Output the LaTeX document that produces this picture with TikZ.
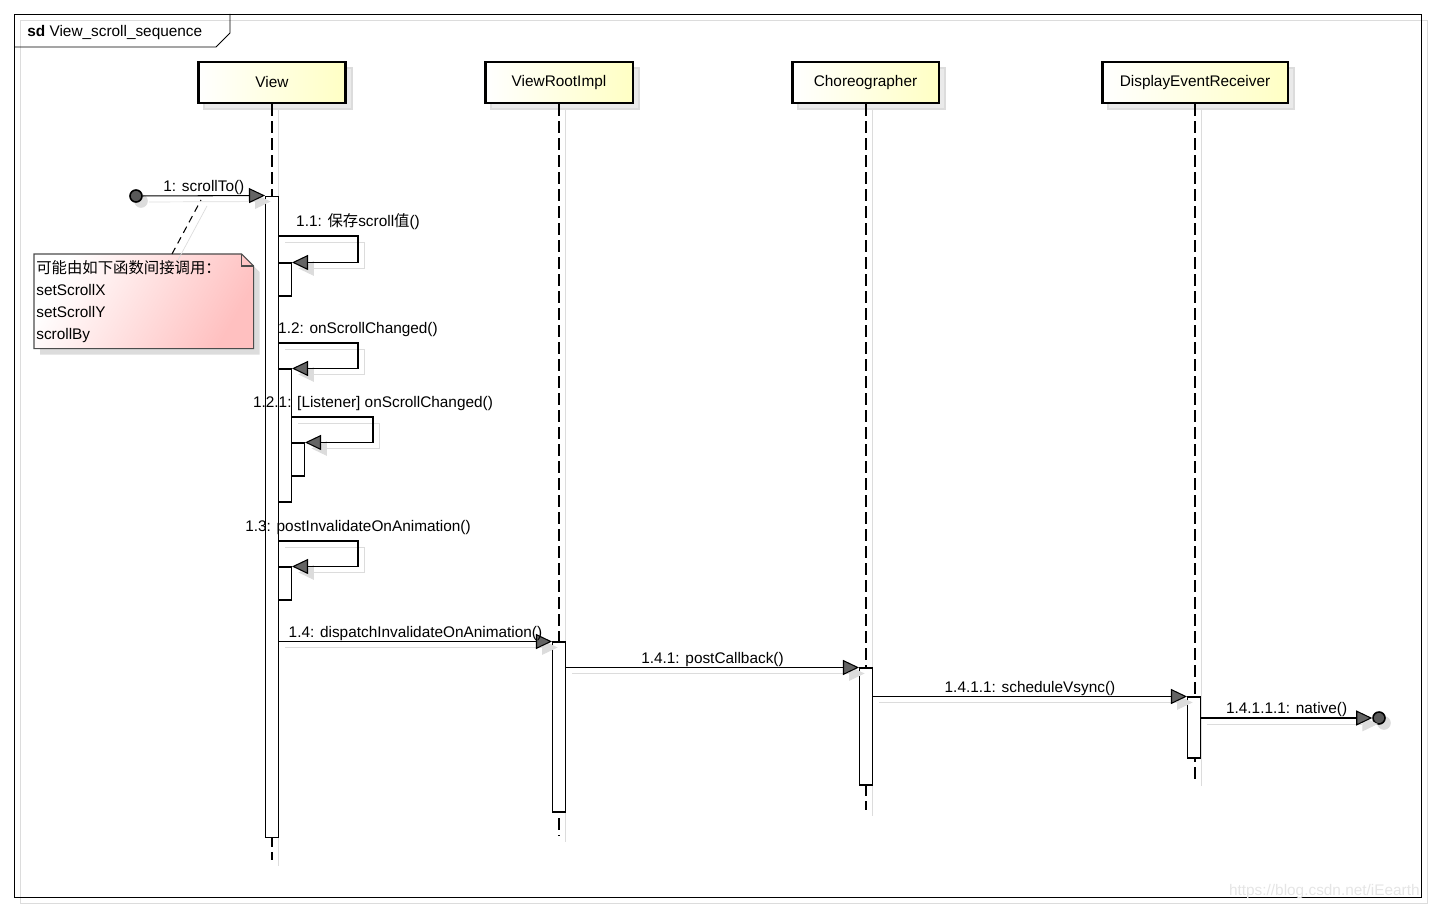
\documentclass[tikz,border=0pt]{standalone}
\usepackage{fontspec}
\setmainfont{Liberation Sans}
\newfontfamily\cjk{Noto Sans CJK SC}
\usetikzlibrary{
  arrows.meta,
  backgrounds,
  calc
}
\definecolor{headyellow}{RGB}{255,255,196}
\definecolor{notepink}{RGB}{255,192,192}
\definecolor{shadowgray}{RGB}{220,220,220}
\definecolor{tipgray}{RGB}{100,100,100}
\tikzset{
  sd text/.style={font=\fontsize{8.75}{10}\selectfont},
  cast shadow/.style={
    preaction={draw=shadowgray, solid, transform canvas={shift={(6,6)}}}
  },
  lifeline head/.style={
    sd text, draw, line width=1.7pt, minimum height=0.82cm, inner sep=0pt,
    left color=white, right color=headyellow,
    preaction={fill=shadowgray!60, draw=shadowgray, line width=1pt, transform canvas={shift={(6,6)}}}
  },
  lifeline/.style={
    line width=0.6pt, dash pattern=on 0.24cm off 0.1cm, cast shadow
  },
  activation/.style={
    draw, fill=white, line width=0.6pt, minimum width=0.26cm, inner sep=0pt
  },
  message/.style={
    line width=0.6pt,
    -{Triangle[length=0.32cm, width=0.3cm, fill=tipgray]},
    preaction={draw=shadowgray, -{Triangle[length=0.32cm, width=0.3cm]},
      transform canvas={shift={(6,6)}}}
  },
  message label/.style={sd text, anchor=south, inner sep=0.4pt},
  self label/.style={message label, yshift=0.1cm},
  end point/.style={
    circle, draw, fill=black!65, line width=0.9pt, minimum size=0.24cm, inner sep=0pt,
    preaction={fill=shadowgray, draw=shadowgray, transform canvas={shift={(5,5)}}}
  },
  note text/.style={
    sd text, align=left, text width=4.3cm, inner xsep=0.04cm, inner ysep=0.12cm,
    font=\fontsize{8.75}{12.5}\selectfont
  }
}

\begin{document}
\begin{tikzpicture}[x=0.02cm, y=-0.02cm]
  \useasboundingbox (0,0) rectangle (1433,912);
  % frame
  \draw[line width=0.5pt, cast shadow] (14,14) rectangle (1421,897);
  \draw[line width=0.5pt] (14,47) -- (216,47) -- (230,33) -- (230,14);
  \node[sd text, anchor=west, inner sep=0pt] (frame tag) at (27,33) {\textbf{sd} View\_scroll\_sequence};

  % lifelines
  \node[lifeline head, minimum width=2.96cm] (view) at (272,82.5) {View};
  \node[lifeline head, minimum width=2.96cm] (vri) at (559,82.5) {ViewRootImpl};
  \node[lifeline head, minimum width=2.94cm] (chor) at (865.5,82.5) {Choreographer};
  \node[lifeline head, minimum width=3.72cm] (der) at (1195,82.5) {DisplayEventReceiver};
  \coordinate (view end) at (272,860);
  \coordinate (vri end) at (559,836);
  \coordinate (chor end) at (866,810);
  \coordinate (der end) at (1195,780);
  \draw[lifeline] (view.south) -- (view end);
  \draw[lifeline] (vri.south) -- (vri end);
  \draw[lifeline] (chor.south -| chor end) -- (chor end);
  \draw[lifeline] (der.south) -- (der end);

  % activations
  \node[activation, minimum height=12.84cm] (a0) at (272,517) {};
  \node[activation, minimum height=0.66cm] (a11) at (285,279.5) {};
  \node[activation, minimum height=2.66cm] (a12) at (285,435.5) {};
  \node[activation, minimum height=0.66cm] (a121) at (298,459.5) {};
  \node[activation, minimum height=0.66cm] (a13) at (285,583.5) {};
  \node[activation, minimum height=3.4cm] (v1) at (559,727) {};
  \node[activation, minimum height=2.34cm] (c1) at (866,726.5) {};
  \node[activation, minimum height=1.22cm] (d1) at (1194,727.5) {};

  % note
  \node[note text, anchor=north west] (note) at (34,254)
    {{\cjk 可能由如下函数间接调用：}\\setScrollX\\setScrollY\\scrollBy};
  \begin{scope}[on background layer]
    \fill[shadowgray] ($(note.north west)+(6,6)$) -- ($(note.north east)+(-6,6)$) -- ($(note.north east)+(6,18)$)
      -- ($(note.south east)+(6,6)$) -- ($(note.south west)+(6,6)$) -- cycle;
    \shade[draw=black!70, line width=0.6pt, top color=white, bottom color=notepink, shading angle=60]
      (note.north west) -- ($(note.north east)+(-12,0)$) -- ($(note.north east)+(0,12)$)
      -- (note.south east) -- (note.south west) -- cycle;
    \draw[line width=0.6pt, black!70] ($(note.north east)+(-12,0)$) -- ($(note.north east)+(-12,12)$) -- ($(note.north east)+(0,12)$);
  \end{scope}
  \coordinate (scroll ref) at (201,200);
  \draw[line width=0.6pt, dash pattern=on 0.14cm off 0.1cm, cast shadow] (note.north -| 172,0) -- (scroll ref);

  % messages
  \node[end point] (found) at (136,196) {};
  \draw[message] (found) -- (a0.north west) node[message label, midway] {1: scrollTo()};
  \draw[message] (a0.east |- 0,236) -- (358,236) node[self label] {1.1: {\cjk 保存}scroll{\cjk 值}()} |- (a11.north east);
  \draw[message] (a0.east |- 0,343) -- (358,343) node[self label] {1.2: onScrollChanged()} |- (a12.north east);
  \draw[message] (a12.east |- 0,417) -- (373,417) node[self label] {1.2.1: [Listener] onScrollChanged()} |- (a121.north east);
  \draw[message] (a0.east |- 0,541) -- (358,541) node[self label] {1.3: postInvalidateOnAnimation()} |- (a13.north east);
  \draw[message] (a0.east |- v1.north) -- (v1.north west) node[message label, midway] {1.4: dispatchInvalidateOnAnimation()};
  \draw[message] (v1.east |- c1.north) -- (c1.north west) node[message label, midway] {1.4.1: postCallback()};
  \draw[message] (c1.east |- d1.north) -- (d1.north west) node[message label, midway] {1.4.1.1: scheduleVsync()};
  \node[end point] (lost) at (1379,718) {};
  \draw[message] (d1.east |- 0,718) -- (lost.west) node[message label, midway] {1.4.1.1.1: native()};

  \node[sd text, text=black!10, anchor=east, inner sep=0pt] (watermark) at (1420,892) {https://blog.csdn.net/iEearth};
\end{tikzpicture}
\end{document}
